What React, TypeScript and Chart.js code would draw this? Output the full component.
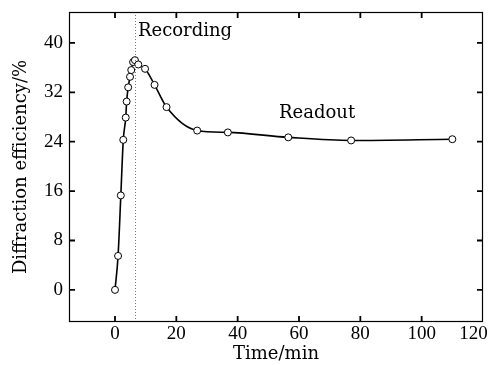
import React, { useEffect, useRef } from "react";
import { Chart, registerables } from "chart.js";

Chart.register(...registerables);

const timeMin = [0, 1, 1.9, 2.7, 3.5, 3.8, 4.3, 4.9, 5.3, 5.9, 6.5, 7.6, 9.8, 12.9, 16.8, 26.8, 36.8, 56.5, 77, 110];
const efficiency = [0, 5.5, 15.3, 24.3, 27.9, 30.5, 32.8, 34.5, 35.6, 36.9, 37.2, 36.5, 35.8, 33.2, 29.6, 25.8, 25.5, 24.7, 24.2, 24.4];
const xTicks = [0, 20, 40, 60, 80, 100, 120];
const yTicks = [0, 8, 16, 24, 32, 40];
const switchTime = 6.5;
const labels = [
  { text: "Recording", t: 7.5, v: 41.8, align: "left" as CanvasTextAlign },
  { text: "Readout", t: 53.5, v: 28.6, align: "left" as CanvasTextAlign },
];

const FONT = "'DejaVu Serif', serif";
const TICK_FONT = "'Liberation Serif', serif";

const framePlugin = {
  id: "frame",
  afterDraw(chart: any) {
    const { ctx, chartArea: a, scales } = chart;
    const xs = scales.x;
    const ys = scales.y;
    ctx.save();
    ctx.strokeStyle = "#777";
    ctx.lineWidth = 1;
    ctx.setLineDash([1, 2]);
    const sx = Math.round(xs.getPixelForValue(switchTime)) + 0.5;
    ctx.beginPath();
    ctx.moveTo(sx, a.top);
    ctx.lineTo(sx, a.bottom);
    ctx.stroke();
    ctx.setLineDash([]);
    ctx.strokeStyle = "#000";
    ctx.lineWidth = 1.2;
    ctx.strokeRect(a.left + 0.5, a.top + 0.5, a.right - a.left - 1, a.bottom - a.top - 1);
    ctx.lineWidth = 1.8;
    const tl = 6;
    xTicks.forEach((t) => {
      const px = xs.getPixelForValue(t);
      if (px > a.right - 3) return;
      ctx.beginPath();
      ctx.moveTo(px, a.bottom);
      ctx.lineTo(px, a.bottom - tl);
      ctx.moveTo(px, a.top);
      ctx.lineTo(px, a.top + tl);
      ctx.stroke();
    });
    yTicks.forEach((v) => {
      const py = ys.getPixelForValue(v);
      ctx.beginPath();
      ctx.moveTo(a.left, py);
      ctx.lineTo(a.left + tl, py);
      ctx.moveTo(a.right, py);
      ctx.lineTo(a.right - tl, py);
      ctx.stroke();
    });
    ctx.fillStyle = "#000";
    ctx.font = `18px ${FONT}`;
    ctx.textBaseline = "middle";
    labels.forEach((l) => {
      ctx.textAlign = l.align;
      ctx.fillText(l.text, xs.getPixelForValue(l.t), ys.getPixelForValue(l.v));
    });
    ctx.restore();
  },
};

export default function App() {
  const ref = useRef<HTMLCanvasElement>(null);
  useEffect(() => {
    document.body.style.margin = "0";
    const chart = new Chart(ref.current!, {
      type: "line",
      data: {
        datasets: [
          {
            data: timeMin.map((t, i) => ({ x: t, y: efficiency[i] })),
            borderColor: "#000",
            borderWidth: 1.6,
            backgroundColor: "#fff",
            pointBackgroundColor: "#fff",
            pointBorderColor: "#000",
            pointBorderWidth: 1,
            pointRadius: 3.5,
            cubicInterpolationMode: "monotone",
            fill: false,
          },
        ],
      },
      plugins: [framePlugin],
      options: {
        animation: false,
        responsive: false,
        maintainAspectRatio: false,
        layout: { padding: { top: 12, right: 8, left: 0, bottom: 0 } },
        plugins: { legend: { display: false }, tooltip: { enabled: false } },
        scales: {
          x: {
            type: "linear",
            min: -15,
            max: 120,
            afterBuildTicks: (s: any) => {
              s.ticks = xTicks.map((v) => ({ value: v }));
            },
            afterFit: (s: any) => {
              s.height = 43;
              s.paddingLeft = 0;
              s.paddingRight = 0;
            },
            grid: { display: false, drawTicks: false },
            border: { display: false },
            ticks: {
              color: "#000",
              font: { family: TICK_FONT, size: 19 },
              padding: 1,
              maxRotation: 0,
              callback: (v: any) => (v === 120 ? "120\u2002\u2002" : String(v)),
            },
            title: {
              display: true,
              text: "Time/min",
              color: "#000",
              font: { family: FONT, size: 18 },
              padding: { top: -3, bottom: 0 },
            },
          },
          y: {
            type: "linear",
            min: -5.2,
            max: 45,
            afterBuildTicks: (s: any) => {
              s.ticks = yTicks.map((v) => ({ value: v }));
            },
            afterFit: (s: any) => {
              s.width = 69;
              s.paddingTop = 0;
              s.paddingBottom = 0;
            },
            grid: { display: false, drawTicks: false },
            border: { display: false },
            ticks: { color: "#000", font: { family: TICK_FONT, size: 19 }, padding: 6 },
            title: {
              display: true,
              text: "Diffraction efficiency/%",
              color: "#000",
              font: { family: FONT, size: 18 },
              padding: { top: 11, bottom: 0 },
            },
          },
        },
      },
    });
    return () => chart.destroy();
  }, []);
  return (
    <div style={{ width: 491, height: 365, background: "#fff" }}>
      <canvas ref={ref} width={491} height={365} />
    </div>
  );
}
